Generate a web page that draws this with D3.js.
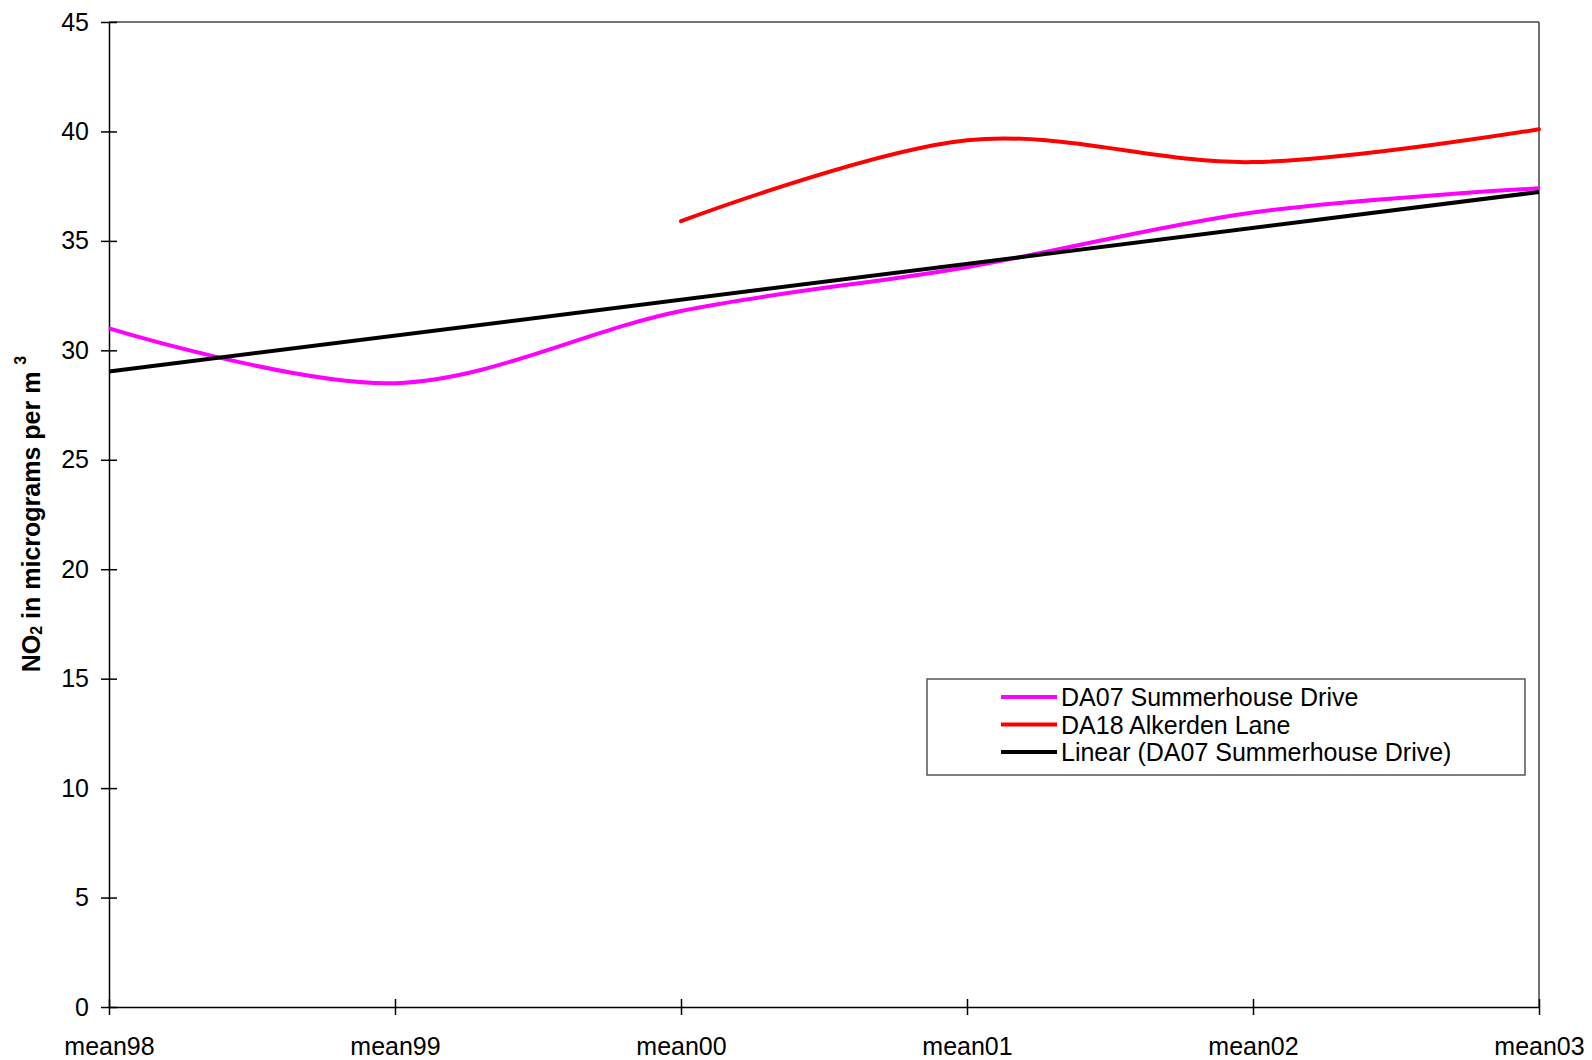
<!DOCTYPE html>
<html><head><meta charset="utf-8">
<script src="https://cdn.jsdelivr.net/npm/d3@7"></script>
<style>body{margin:0;background:#fff}svg{display:block}text{font-family:"Liberation Sans",Arial,sans-serif}</style>
</head><body><svg id="c" width="1592" height="1060"></svg>
<script>
const categories = ["mean98","mean99","mean00","mean01","mean02","mean03"];
const da07 = [31.0, 28.5, 31.8, 33.8, 36.3, 37.4];
const da18 = [null, null, 35.9, 39.6, 38.6, 40.1];
const yTicks = [0,5,10,15,20,25,30,35,40,45];
const seriesNames = ["DA07 Summerhouse Drive","DA18 Alkerden Lane","Linear (DA07 Summerhouse Drive)"];
const colors = ["#ff00ff","#ff0000","#000000"];

const svg = d3.select("#c");
const L=109, R=1539, T=22, B=1007;
const x = d3.scalePoint().domain(categories).range([L,R]);
const y = d3.scaleLinear().domain([0,45]).range([B,T]);

// frame top/right
svg.append("line").attr("x1",L).attr("x2",R).attr("y1",T).attr("y2",T).attr("stroke","#444").attr("stroke-width",1.5);
svg.append("line").attr("x1",R).attr("x2",R).attr("y1",T).attr("y2",B).attr("stroke","#444").attr("stroke-width",1.5);

// y axis
const ya = svg.append("g").attr("transform",`translate(${L},0)`)
  .call(d3.axisLeft(y).tickValues(yTicks).tickSize(8).tickPadding(12).tickSizeOuter(0));
ya.selectAll(".tick line").attr("x2",8).attr("x1",-8);
// x axis
const xa = svg.append("g").attr("transform",`translate(0,${B})`)
  .call(d3.axisBottom(x).tickSize(8).tickPadding(22).tickSizeOuter(0));
xa.selectAll(".tick line").attr("y1",-8).attr("y2",8);
[ya,xa].forEach(g=>{
  g.selectAll("path,line").attr("stroke","#000").attr("stroke-width",1.5);
  g.selectAll("text").attr("font-size",25).attr("fill","#000").style("font-family","'Liberation Sans',Arial,sans-serif");
});

// y label
const yl = svg.append("text").attr("transform","translate(31,514) rotate(-90)")
  .attr("text-anchor","middle").attr("dominant-baseline","central")
  .attr("font-size",25).attr("font-weight","bold");
yl.append("tspan").text("NO");
yl.append("tspan").text("2").attr("font-size",16).attr("dy",5);
yl.append("tspan").text(" in micrograms per m ").attr("dy",-5);
yl.append("tspan").text("3").attr("font-size",16).attr("dy",-11);

// lines
const curve = d3.curveCatmullRom.alpha(0);
const mk = vals => d3.line().defined(d=>d.v!=null).x(d=>x(d.c)).y(d=>y(d.v)).curve(curve)(categories.map((c,i)=>({c,v:vals[i]})));
// linear trend from DA07
const xs = da07.map((_,i)=>i);
const mx = d3.mean(xs), my = d3.mean(da07);
const slope = d3.sum(xs.map((xi,i)=>(xi-mx)*(da07[i]-my)))/d3.sum(xs.map(xi=>(xi-mx)**2));
const icpt = my - slope*mx;
const trend = [icpt, icpt + slope*(categories.length-1)];

svg.append("path").attr("d",mk(da07)).attr("fill","none").attr("stroke",colors[0]).attr("stroke-width",4);
svg.append("path").attr("d",mk(da18)).attr("fill","none").attr("stroke",colors[1]).attr("stroke-width",4).attr("stroke-linecap","round");
svg.append("line").attr("x1",x(categories[0])).attr("y1",y(trend[0]))
  .attr("x2",x(categories[categories.length-1])).attr("y2",y(trend[1]))
  .attr("stroke",colors[2]).attr("stroke-width",4);

// legend
const lg = svg.append("g");
lg.append("rect").attr("x",927).attr("y",679).attr("width",598).attr("height",96)
  .attr("fill","#fff").attr("stroke","#555").attr("stroke-width",1.5);
seriesNames.forEach((n,i)=>{
  const yy = 697 + i*27.5;
  lg.append("line").attr("x1",1001).attr("x2",1057).attr("y1",yy).attr("y2",yy).attr("stroke",colors[i]).attr("stroke-width",4);
  lg.append("text").attr("x",1061).attr("y",yy).attr("dominant-baseline","central").attr("font-size",25).text(n);
});
</script></body></html>
